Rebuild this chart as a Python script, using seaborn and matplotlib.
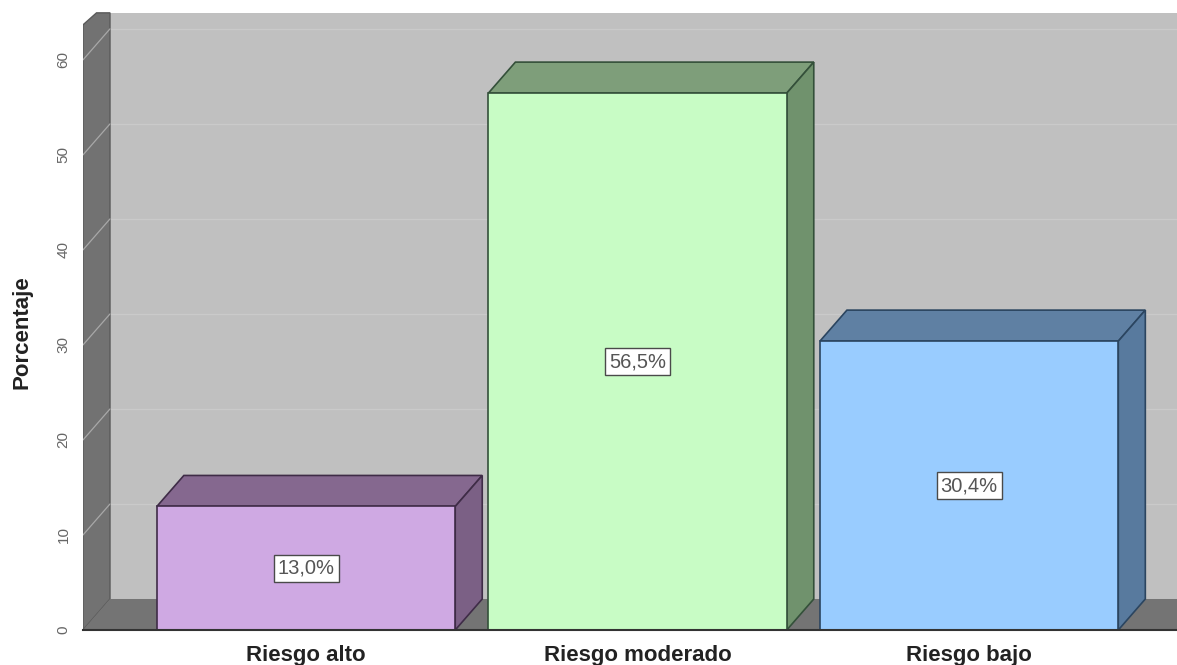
import matplotlib
matplotlib.use("Agg")
import matplotlib.pyplot as plt
from matplotlib.patches import Polygon, Rectangle
import seaborn as sns
import pandas as pd

# Data
categorias = ["Riesgo alto", "Riesgo moderado", "Riesgo bajo"]
porcentajes = [13.0, 56.5, 30.4]
etiquetas = ["13,0%", "56,5%", "30,4%"]
ticks_y = [0, 10, 20, 30, 40, 50, 60]

# Face colours for the pseudo-3D bars
cara_frontal = ["#cfa9e3", "#c8fcc5", "#99ccff"]
cara_superior = ["#85688f", "#7e9e7a", "#5f80a3"]
cara_lateral = ["#7b6085", "#70926d", "#587a9e"]
bordes = ["#3f2c47", "#34503a", "#2b4560"]

sns.set_theme(style="white")
plt.rcParams["font.family"] = ["Liberation Sans", "DejaVu Sans"]

W, H = 1177, 665
fig = plt.figure(figsize=(W / 100, H / 100), dpi=100)
ax = fig.add_axes([83 / W, 35 / H, (W - 83) / W, 630 / H])

df = pd.DataFrame({"categoria": categorias, "porcentaje": porcentajes})
sns.barplot(data=df, x="categoria", y="porcentaje", hue="categoria",
            palette=cara_frontal, saturation=1, width=0.9, legend=False,
            edgecolor="#333333", linewidth=1.2, ax=ax, zorder=4)
barras = list(ax.patches)

# Axis ranges (category unit ~331 px, 9.5 px per percent)
x0, x1 = -0.6727, 2.627
y_top = 66.3
ax.set_xlim(x0, x1)
ax.set_ylim(0, y_top)

# depth offset of the 3D effect
ddx = 27 / 331.5
ddy = 31 / 9.5
top_back = (630 - 13) / 9.5
top_front = (630 - 25) / 9.5

# back wall
ax.add_patch(Rectangle((x0 + ddx, ddy), x1 - x0, top_back - ddy,
                       facecolor="#c0c0c0", edgecolor="none", zorder=0))
# left wall
ax.add_patch(Polygon([(x0, 0), (x0, top_front), (x0 + ddx * 0.5, top_back),
                      (x0 + ddx, top_back), (x0 + ddx, ddy)], closed=True,
                     facecolor="#727272", edgecolor="#5a5a5a", lw=1, zorder=1))
# floor
ax.add_patch(Polygon([(x0, 0), (x0 + ddx, ddy), (x1 + 1, ddy), (x1 + 1, 0)],
                     closed=True, facecolor="#747474", edgecolor="none", zorder=1))

# grid lines on the walls
for v in ticks_y[1:]:
    ax.plot([x0 + ddx, x1 + 1], [v + ddy, v + ddy], color="#cacaca",
            lw=0.9, zorder=0.5)
    ax.plot([x0, x0 + ddx], [v, v + ddy], color="#a8a8a8", lw=0.9, zorder=1.5)

# top and side faces of each bar, plus value labels
for p, top_c, side_c, ec, lab in zip(barras, cara_superior, cara_lateral,
                                     bordes, etiquetas):
    x, w, h = p.get_x(), p.get_width(), p.get_height()
    p.set_edgecolor(ec)
    ax.add_patch(Polygon([(x, h), (x + ddx, h + ddy), (x + w + ddx, h + ddy),
                          (x + w, h)], closed=True, facecolor=top_c,
                         edgecolor=ec, lw=1.2, zorder=3))
    ax.add_patch(Polygon([(x + w, 0), (x + w, h), (x + w + ddx, h + ddy),
                          (x + w + ddx, ddy)], closed=True, facecolor=side_c,
                         edgecolor=ec, lw=1.2, zorder=3))
    ax.text(x + w / 2, h / 2, lab, ha="center", va="center", fontsize=14.5,
            color="#555555", zorder=6,
            bbox=dict(boxstyle="square,pad=0.2", fc="white", ec="#4a4a4a", lw=1))

# axes styling
for s in ["top", "right", "left"]:
    ax.spines[s].set_visible(False)
ax.spines["bottom"].set_color("#333333")
ax.spines["bottom"].set_linewidth(1.5)
ax.spines["bottom"].set_zorder(5)

ax.set_yticks(ticks_y)
ax.set_yticklabels([str(t) for t in ticks_y], rotation=90, va="center",
                   fontsize=11, color="#666666")
ax.tick_params(axis="y", length=0, pad=9)
ax.tick_params(axis="x", length=0, pad=11)
ax.set_xticks(range(len(categorias)))
ax.set_xticklabels(categorias, fontsize=16, fontweight="bold", color="#222222")
ax.set_xlabel("")
ax.set_ylabel("")
fig.text(22 / W, 1 - 332 / H, "Porcentaje", rotation=90, ha="center",
         va="center", fontsize=16, fontweight="bold", color="#222222")

fig.savefig("out.png", dpi=100, facecolor="white")
